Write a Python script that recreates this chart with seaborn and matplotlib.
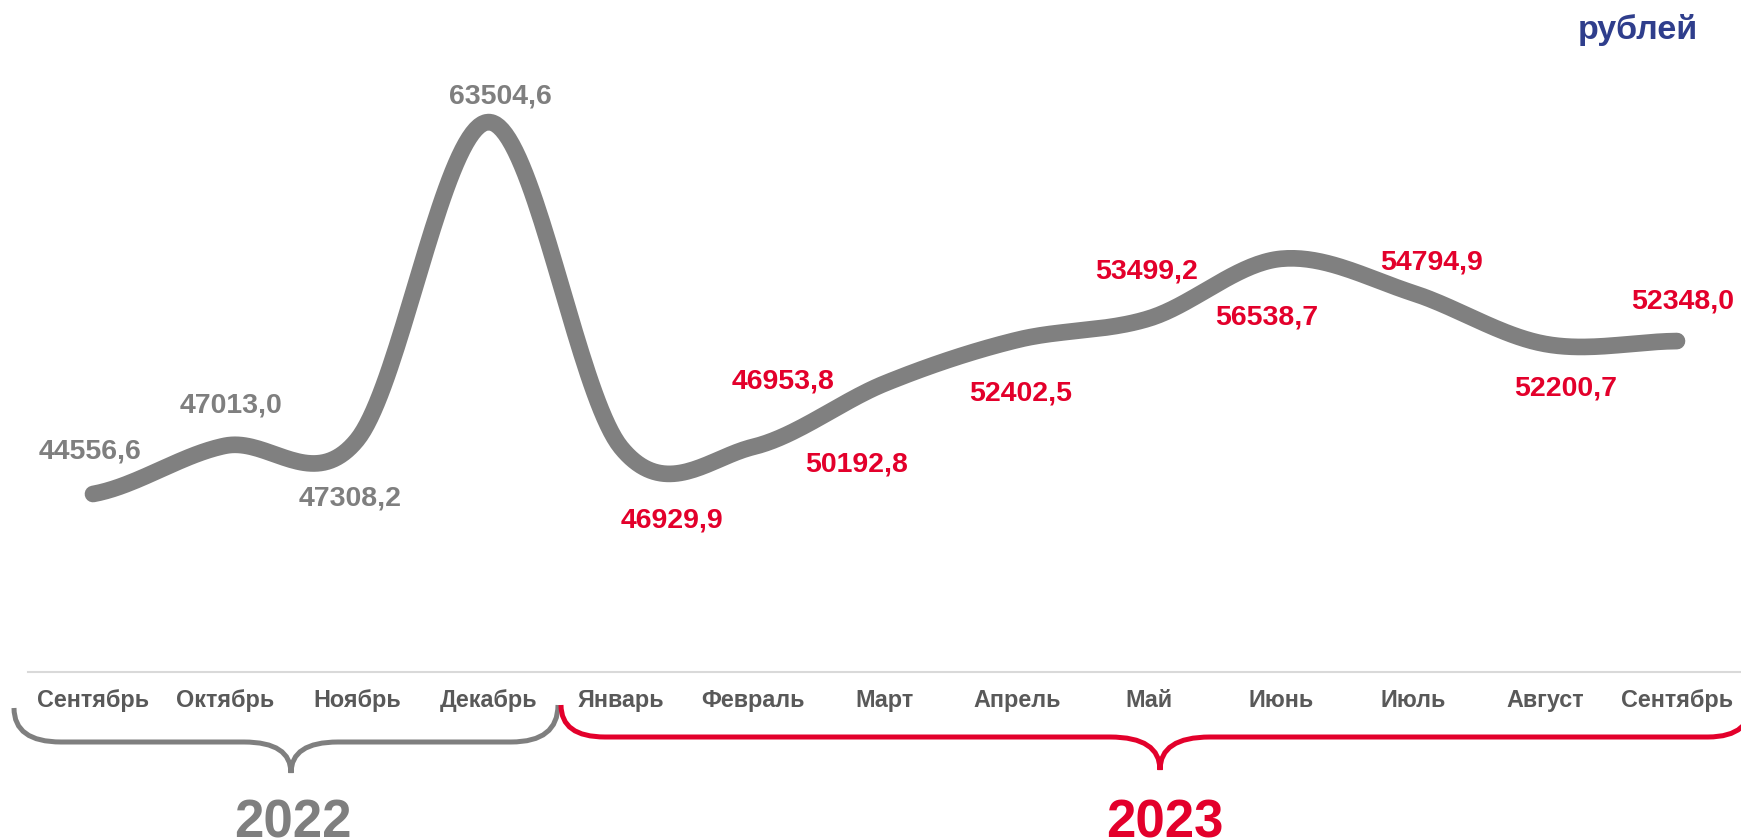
import numpy as np
import pandas as pd
import matplotlib
matplotlib.use('Agg')
import matplotlib.pyplot as plt
from matplotlib.path import Path
from matplotlib.patches import PathPatch
from matplotlib.transforms import Affine2D
import seaborn as sns

# данные: средняя зарплата по месяцам
months = ['Сентябрь', 'Октябрь', 'Ноябрь', 'Декабрь', 'Январь', 'Февраль', 'Март',
          'Апрель', 'Май', 'Июнь', 'Июль', 'Август', 'Сентябрь']
salary = [44556.6, 47013.0, 47308.2, 63504.6, 46929.9, 46953.8, 50192.8,
          52402.5, 53499.2, 56538.7, 54794.9, 52200.7, 52348.0]
year_names = ['2022', '2023']
year_of_month = ['2022'] * 4 + ['2023'] * 9
unit = 'рублей'

# подписи: сдвиг базовой линии от точки, px (вправо, вниз)
label_shift = [(-3, -35), (6, -33), (-7, 66), (11, -19), (51, 80), (30, -58), (-28, 88),
               (4, 61), (-2, -40), (-14, 66), (19, -24), (21, 52), (6, -33)]

W, H = 1741, 839
GRAY = '#808080'
RED = '#E3002B'
year_color = {'2022': '#7F7F7F', '2023': RED}

sns.set_style('white')
plt.rcParams['font.family'] = ['Liberation Sans', 'DejaVu Sans']


def smooth(y, steps=40):
    # сглаживание как у Excel (Catmull-Rom), проходит через все точки
    y = np.asarray(y, float)
    p = np.concatenate([[y[0]], y, [y[-1]]])
    t = np.linspace(0, 1, steps, endpoint=False)
    xs, ys = [], []
    for i in range(len(y) - 1):
        p0, p1, p2, p3 = p[i], p[i + 1], p[i + 2], p[i + 3]
        m1, m2 = (p2 - p0) / 2, (p3 - p1) / 2
        h00 = 2 * t**3 - 3 * t**2 + 1
        h10 = t**3 - 2 * t**2 + t
        h01 = -2 * t**3 + 3 * t**2
        h11 = t**3 - t**2
        xs.append(i + t)
        ys.append(h00 * p1 + h10 * m1 + h01 * p2 + h11 * m2)
    xs.append([len(y) - 1])
    ys.append([y[-1]])
    return np.concatenate(xs), np.concatenate(ys)


fig = plt.figure(figsize=(W / 100, H / 100), dpi=100)
ax = fig.add_axes([28 / W, (H - 672) / H, 1 - 28 / W, 672 / H])

sx, sy = smooth(salary)
curve = pd.DataFrame({'x': sx, 'y': sy})
sns.lineplot(data=curve, x='x', y='y', sort=False, color=GRAY, linewidth=12,
             solid_capstyle='round', ax=ax)

for i, (v, yr) in enumerate(zip(salary, year_of_month)):
    dx, dy = label_shift[i]
    ax.annotate(f'{v:.1f}'.replace('.', ','), (i, v), xytext=(dx, -dy),
                textcoords='offset pixels', ha='center', va='baseline',
                fontsize=20.5, fontweight='bold', color=year_color[yr])

ax.set_xlim(-0.4924, 12.485)
ax.set_ylim(35488.8, 69722.2)
ax.set_xticks(range(len(months)))
ax.set_xticklabels(months, fontsize=16.8, fontweight='bold', color='#595959')
ax.tick_params(axis='x', length=0, pad=12.5)
ax.set_yticks([])
ax.set_xlabel('')
ax.set_ylabel('')
for s in ['top', 'left', 'right']:
    ax.spines[s].set_visible(False)
ax.spines['bottom'].set_color('#D9D9D9')
ax.spines['bottom'].set_linewidth(1.5)

# фигурные скобки под годами (в пикселях от верхнего левого угла)
px = Affine2D().scale(1 / W, -1 / H).translate(0, 1) + fig.transFigure


def brace(x0, y0, x1, y1, xm, ybar, ytip, r, rm, color):
    verts = [(x0, y0), (x0, ybar), (x0 + r, ybar),
             (xm - rm, ybar),
             (xm, ybar), (xm, ytip),
             (xm, ybar), (xm + rm, ybar),
             (x1 - r, ybar),
             (x1, ybar), (x1, y1)]
    codes = [Path.MOVETO, Path.CURVE3, Path.CURVE3, Path.LINETO,
             Path.CURVE3, Path.CURVE3, Path.CURVE3, Path.CURVE3,
             Path.LINETO, Path.CURVE3, Path.CURVE3]
    fig.add_artist(PathPatch(Path(verts, codes), fill=False, edgecolor=color,
                             linewidth=3.6, transform=px, capstyle='butt'))


brace(14, 708, 558, 705, 291, 742, 773, 47, 47, year_color['2022'])
brace(561, 705, 1752, 700, 1160, 737, 770, 44, 50, year_color['2023'])

for name, xc in zip(year_names, [293, 1165]):
    fig.text(xc, 838, name, transform=px, ha='center', va='baseline',
             fontsize=38, fontweight='bold', color=year_color[name])

fig.text(1638, 39, unit, transform=px, ha='center', va='baseline',
         fontsize=24.5, fontweight='bold', color='#2F3E8C')

fig.savefig('out.png', dpi=100)
